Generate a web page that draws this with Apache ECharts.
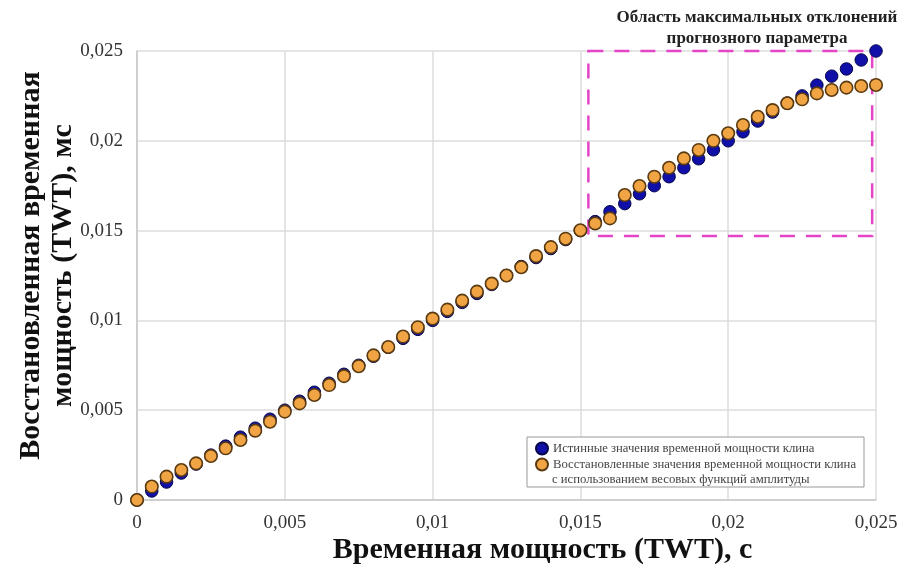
<!DOCTYPE html>
<html>
<head>
<meta charset="utf-8">
<script src="https://cdn.jsdelivr.net/npm/echarts@6/dist/echarts.min.js"></script>
<style>
  html, body { margin: 0; padding: 0; background: #fff; }
  #chart { width: 906px; height: 577px; }
</style>
</head>
<body>
<div id="chart"></div>
<script>
// TWT along x, s
const xVals = [
  0, 0.0005, 0.001, 0.0015, 0.002, 0.0025, 0.003, 0.0035, 0.004, 0.0045,
  0.005, 0.0055, 0.006, 0.0065, 0.007, 0.0075, 0.008, 0.0085, 0.009, 0.0095,
  0.01, 0.0105, 0.011, 0.0115, 0.012, 0.0125, 0.013, 0.0135, 0.014, 0.0145,
  0.015, 0.0155, 0.016, 0.0165, 0.017, 0.0175, 0.018, 0.0185, 0.019, 0.0195,
  0.02, 0.0205, 0.021, 0.0215, 0.022, 0.0225, 0.023, 0.0235, 0.024, 0.0245,
  0.025
];
// true values (blue)
const trueVals = [
  0, 0.0005, 0.001, 0.0015, 0.002, 0.0025, 0.003, 0.0035, 0.004, 0.0045,
  0.005, 0.0055, 0.006, 0.0065, 0.007, 0.0075, 0.008, 0.0085, 0.009, 0.0095,
  0.01, 0.0105, 0.011, 0.0115, 0.012, 0.0125, 0.013, 0.0135, 0.014, 0.0145,
  0.015, 0.0155, 0.01605, 0.0165, 0.01705, 0.0175, 0.018, 0.0185, 0.019, 0.0195,
  0.02, 0.0205, 0.0211, 0.0216, 0.0221, 0.0225, 0.0231, 0.0236, 0.0240, 0.0245,
  0.0250
];
// reconstructed values (orange)
const reconVals = [
  0, 0.00075, 0.0013, 0.00167, 0.00204, 0.00245, 0.00288, 0.00334, 0.00386, 0.00436,
  0.00492, 0.00538, 0.00585, 0.0064, 0.0069, 0.00745, 0.00805, 0.00852, 0.0091, 0.00962,
  0.0101, 0.0106, 0.0111, 0.0116, 0.01205, 0.0125, 0.01296, 0.01358, 0.01408, 0.01455,
  0.01502, 0.0154, 0.01568, 0.01698, 0.01748, 0.018, 0.0185, 0.01902, 0.01949, 0.02,
  0.02042, 0.02088, 0.02134, 0.02171, 0.02209, 0.02231, 0.02264, 0.02283, 0.02296, 0.02305,
  0.02311
];
const xTicks = ["0", "0,005", "0,01", "0,015", "0,02", "0,025"];
const seriesNames = [
  "Истинные значения временной мощности клина",
  "Восстановленные значения временной мощности клина",
];
const legendExtra = "с использованием весовых функций амплитуды";
// area of max deviation: [x0, y0] - [x1, y1]
const devArea = [[0.01527, 0.02503], [0.02487, 0.0147]];

const FONT = '"Liberation Serif", "DejaVu Serif", serif';
const fmt = v => (+v.toFixed(4)).toString().replace(".", ",");

const chart = echarts.init(document.getElementById("chart"));

const options = {
  animation: false,
  grid: { left: 137, right: 30, top: 51, bottom: 77 },
  xAxis: {
    type: "value",
    min: 0,
    max: 0.025,
    interval: 0.005,
    name: "Временная мощность (TWT), с",
    nameLocation: "middle",
    nameGap: 35,
    nameMoveOverlap: false,
    nameTextStyle: {
      fontFamily: FONT, fontSize: 30, fontWeight: "bold", color: "#111",
      padding: [0, 0, 0, 72]
    },
    axisLine: { show: true, lineStyle: { color: "#c8c8c8", width: 1.5 } },
    axisTick: { show: false },
    axisLabel: {
      fontFamily: FONT, fontSize: 19, color: "#333", margin: 14,
      formatter: v => xTicks[Math.round(v / 0.005)]
    },
    splitLine: { show: true, lineStyle: { color: "#dcdcdc", width: 1.5 } }
  },
  yAxis: {
    type: "value",
    min: 0,
    max: 0.025,
    interval: 0.005,
    name: "Восстановленная временная\nмощность (TWT), мс",
    nameLocation: "middle",
    nameRotate: 90,
    nameGap: 58,
    nameMoveOverlap: false,
    nameTextStyle: {
      fontFamily: FONT, fontSize: 30, fontWeight: "bold", color: "#111", lineHeight: 32,
      padding: [0, 0, 0, 20]
    },
    axisLine: { show: true, lineStyle: { color: "#c8c8c8", width: 1.5 } },
    axisTick: { show: false },
    axisLabel: { fontFamily: FONT, fontSize: 19, color: "#333", margin: 14, formatter: fmt },
    splitLine: { show: true, lineStyle: { color: "#dcdcdc", width: 1.5 } }
  },
  legend: {
    orient: "vertical",
    left: 527,
    top: 437,
    padding: [4, 8, 15, 8],
    itemGap: 1,
    itemWidth: 12,
    itemHeight: 12,
    backgroundColor: "#fff",
    borderColor: "#999",
    borderWidth: 1,
    icon: "circle",
    textStyle: { fontFamily: FONT, fontSize: 12.7, color: "#444", lineHeight: 15 },
    data: seriesNames
  },
  graphic: [
    {
      type: "text",
      x: 757,
      y: 7,
      style: {
        text: "Область максимальных отклонений\nпрогнозного параметра",
        font: "bold 17px " + FONT,
        fill: "#222",
        align: "center",
        lineHeight: 21
      }
    },
    {
      type: "text",
      x: 552,
      y: 480,
      z: 10,
      style: {
        text: legendExtra,
        font: "12.7px " + FONT,
        fill: "#444",
        align: "left",
        verticalAlign: "middle"
      }
    }
  ],
  series: [
    {
      name: seriesNames[0],
      type: "scatter",
      symbolSize: 12.5,
      data: xVals.map((x, i) => [x, trueVals[i]]),
      itemStyle: { color: "#1010a8", borderColor: "#05054a", borderWidth: 1, opacity: 1 },
      z: 2
    },
    {
      name: seriesNames[1],
      type: "scatter",
      symbolSize: 12.5,
      data: xVals.map((x, i) => [x, reconVals[i]]),
      itemStyle: { color: "#f0a444", borderColor: "#5a3a10", borderWidth: 1.6, opacity: 1 },
      z: 3,
      markArea: {
        silent: true,
        itemStyle: {
          color: "rgba(0,0,0,0)",
          borderColor: "#e444c6",
          borderWidth: 2.5,
          borderType: [15, 11]
        },
        data: [[{ coord: devArea[0] }, { coord: devArea[1] }]]
      }
    }
  ]
};

chart.setOption(options);
</script>
</body>
</html>
